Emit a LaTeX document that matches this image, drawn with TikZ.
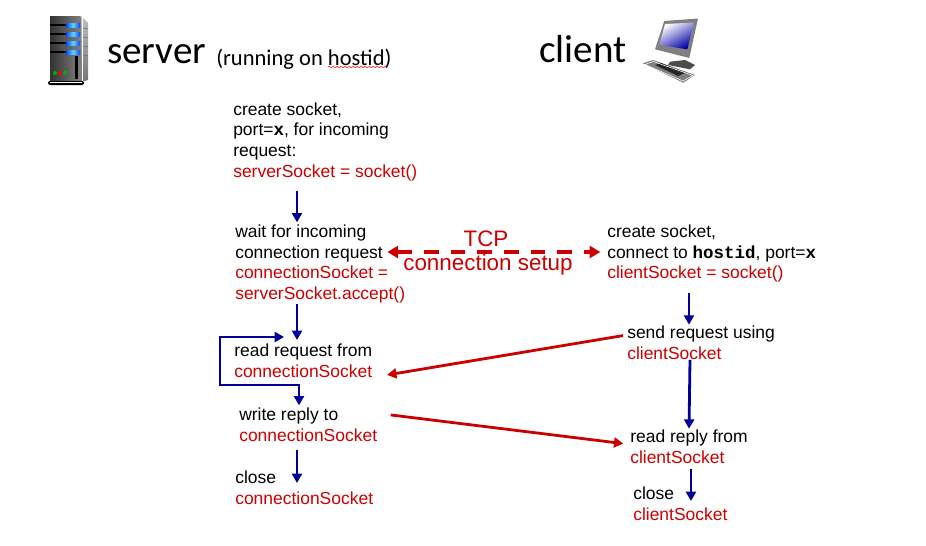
\documentclass[tikz,border=0pt]{standalone}
\usepackage{fontspec}
\setmainfont{Liberation Sans}
\newfontfamily\headfont{Carlito}
\newfontfamily\codefont{Liberation Mono}
\usetikzlibrary{positioning}
\usetikzlibrary{shapes,arrows.meta}
\usetikzlibrary{decorations.pathmorphing}
\definecolor{sockred}{RGB}{204,0,0}
\definecolor{flowblue}{RGB}{0,0,153}
\newcommand{\red}[1]{\textcolor{sockred}{#1}}
\newcommand{\code}[1]{{\codefont\bfseries #1}}
\tikzset{%
  step box/.style = {anchor=north west, inner sep=0pt, align=left, font=\fontsize{13.1}{15.4}\selectfont},
  head/.style     = {anchor=base west, inner sep=0pt, font=\headfont\fontsize{29.3}{30}\selectfont},
  small head/.style = {anchor=base west, inner sep=0pt, font=\headfont\fontsize{16.9}{18}\selectfont},
  tcp/.style      = {inner sep=0pt, text=sockred, font=\fontsize{16.8}{20}\selectfont},
  flow/.style     = {->, flowblue, line width=2.1pt},
  msg/.style      = {->, sockred, line width=2.1pt}
}

\begin{document}
\begin{tikzpicture}[x=0.75pt, y=-0.75pt, >={Triangle[length=7pt,width=7.5pt]}]
  \useasboundingbox (0,0) rectangle (926,546);

  % server icon
  \shade[left color=black!80, right color=black!50] (50,16) -- (80.7,16) -- (80.7,82) -- (50,82) -- cycle;
  \shade[top color=black!25, bottom color=black!55] (81,16) -- (88,23) -- (88,80) -- (81,82) -- cycle;
  \draw[white, line width=0.5pt] (82,17) -- (82,81);
  \foreach \y in {25,34,43,52} {
    \fill[black] (50,\y-1) rectangle (68,\y+1);
    \shade[left color=blue!70!cyan, right color=blue!70!cyan, middle color=blue!30!cyan!60!white] (66,\y-2) rectangle (80,\y+2);
    \draw[black!55, line width=0.5pt] (83,\y+3) -- (88,\y+4);
  }
  \fill[black] (75,56) rectangle (78,79);
  \fill[green!70!black] (55,73) circle (2);
  \fill[red] (60,73) circle (2);
  \fill[green!70!black] (65,73) circle (2);
  \fill[black, rounded corners=1.5] (48,81) rectangle (84,85);
  \fill[white] (50,82.3) rectangle (82,83.2);

  % client icon
  \fill[black!50] (655,49.3) -- (664.3,21) -- (698,18.5) -- (689.3,58) -- cycle;
  \shade[left color=white, right color=blue!65!black, shading angle=30] (665,24) -- (694,22.5) -- (687.3,49.3) -- (659.3,45) -- cycle;
  \fill[black!70] (670,61.7) -- (685,60) -- (695,65) -- (690,69.3) -- (668,65) -- cycle;
  \fill[black!50] (642.7,63.3) -- (653.3,60) -- (695,75) -- (683.3,82.7) -- cycle;
  \fill[black!85] (655,65) -- (661,63) -- (685,73) -- (678,76) -- cycle;
  \draw[white, line width=0.4pt] (645,64.5) -- (653.3,61.5) -- (693,75.5) -- (683,81) -- cycle;

  % headings
  \node[head] (server) at (107,63) {server};
  \node[small head] (running) at (216,65) {(running on hostid)};
  \node[head] (client) at (539,62) {client};
  \draw[red, line width=0.4pt, decorate, decoration={snake, amplitude=0.6pt, segment length=3pt}]
    (328,67) -- (387,67);

  % server side
  \draw node at (233,102.5) [step box] (create) {create socket,\\port=\code{x}, for incoming\\request:\\\red{serverSocket = socket()}};
  \draw node at (235,225) [step box] (wait) {wait for incoming\\connection request\\\red{connectionSocket =}\\\red{serverSocket.accept()}};
  \draw node at (234,344) [step box] (read) {read request from\\\red{connectionSocket}};
  \draw node at (239,408) [step box] (write) {write reply to\\\red{connectionSocket}};
  \draw node at (235,471) [step box] (closesrv) {close\\\red{connectionSocket}};

  % client side
  \draw node at (607,225) [step box] (connect) {create socket,\\connect to \code{hostid}, port=\code{x}\\\red{clientSocket = socket()}};
  \draw node at (627,326) [step box] (send) {send request using\\\red{clientSocket}};
  \draw node at (630,430) [step box] (reply) {read reply from\\\red{clientSocket}};
  \draw node at (633,487) [step box] (closecli) {close\\\red{clientSocket}};

  \draw node at (486,239) [tcp] (tcp) {TCP};
  \draw node at (488,265) [tcp] (setup) {connection setup};

  \coordinate (looptl) at (220,337);
  \coordinate (loopbl) at (220,385);
  \coordinate (loopin) at (284,337);
  \coordinate (loopbr) at (299,385);

  % server arrows
  \draw[flow, shorten <=7.5pt, shorten >=2pt] (create.south -| 297,0) -- (wait.north -| 297,0);
  \draw[flow, shorten <=0.5pt, shorten >=3pt] (wait.south -| 297,0) -- (read.north -| 297,0);
  \draw[flow, shorten <=6pt, shorten >=-9pt] (write.south -| 297,0) -- (closesrv.north -| 297,0);
  \draw[flow, <->, shorten >=2pt] (loopin) -- (looptl) -- (loopbl) -- (loopbr) -- (write.north -| loopbr);

  % client arrows
  \draw[flow, shorten <=7.5pt, shorten >=1pt] (connect.south -| 689,0) -- (send.north -| 689,0);
  \draw[flow, shorten >=1pt] (send.south -| 690,0) -- (reply.north -| 689,0);
  \draw[flow, shorten <=4pt, shorten >=-10.5pt] (reply.south -| 691,0) -- (closecli.north -| 691,0);

  % messages
  \draw[{Triangle[length=8pt,width=9pt]}-{Triangle[length=8pt,width=9pt]}, sockred, line width=3pt,
    dash pattern=on 11pt off 9pt, shorten <=-13.5pt, shorten >=5pt]
    (wait.east |- 0,252) -- (connect.west |- 0,252);
  \draw[msg] ([yshift=5.5pt,xshift=-3pt]send.west) -- ([xshift=11pt,yshift=-10.5pt]read.east);
  \draw[msg] ([xshift=10pt,yshift=7.5pt]write.east) -- ([xshift=-5pt,yshift=2.5pt]reply.west);
\end{tikzpicture}
\end{document}
